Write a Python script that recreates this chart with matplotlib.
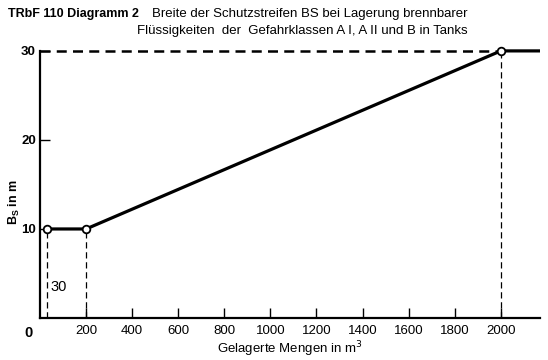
import matplotlib.pyplot as plt

plt.rcParams['font.family'] = ['Liberation Sans', 'DejaVu Sans']

# Werte aus dem Diagramm
menge = [30, 200, 2000]          # gelagerte Mengen in m3
breite = [10, 10, 30]            # Breite BS in m
menge_ende = 2170                # Linie läuft nach 2000 waagerecht weiter
xticks = [200, 400, 600, 800, 1000, 1200, 1400, 1600, 1800, 2000]
yticks = [10, 20, 30]

fig = plt.figure(figsize=(5.48, 3.6), dpi=100)
ax = fig.add_axes([40/548, 42/360, 500/548, 276/360])

# Kennlinie
ax.plot(menge + [menge_ende], breite + [breite[-1]], color='black', lw=2.3,
        solid_capstyle='butt', clip_on=False, zorder=3)
ax.plot(menge, breite, 'o', ms=5.5, mfc='white', mec='black', mew=1.3,
        clip_on=False, zorder=4)

# gestrichelte Hilfslinien
for x, y in zip(menge, breite):
    ax.plot([x, x], [0, y], color='black', lw=0.9, ls=(0, (5, 3)), zorder=2)
ax.plot([0, menge[-1]], [30, 30], color='black', lw=1.8, ls=(0, (4, 2.5)),
        clip_on=False, zorder=2)

ax.set_xlim(0, menge_ende)
ax.set_ylim(0, 31)
ax.spines['top'].set_visible(False)
ax.spines['right'].set_visible(False)
ax.spines['left'].set_bounds(0, 30)
ax.spines['left'].set_linewidth(1.6)
ax.spines['bottom'].set_linewidth(1.6)

ax.set_xticks(xticks)
ax.set_yticks(yticks)
ax.tick_params(direction='in', length=7, width=1.0, labelsize=9.5, pad=5)
ax.tick_params(axis='y', pad=3)
for lbl in ax.get_yticklabels():
    lbl.set_fontweight('bold')

ax.text(-0.015, -0.03, '0', transform=ax.transAxes, ha='right', va='top',
        fontsize=10.5, fontweight='bold')
ax.text(45, 3.5, '30', fontsize=10.5, ha='left', va='center')

ax.set_xlabel(r'Gelagerte Mengen in m$^3$', fontsize=9.5, labelpad=2)
ax.set_ylabel(r'B$_\mathregular{S}$ in m', fontsize=9, fontweight='bold')
ax.yaxis.set_label_coords(-0.037, 0.42)

fig.text(8/548, 1 - 14/360, 'TRbF 110 Diagramm 2', fontsize=9,
         fontweight='bold', va='center')
fig.text(152/548, 1 - 14/360,
         'Breite der Schutzstreifen BS bei Lagerung brennbarer',
         fontsize=9.5, va='center')
fig.text(137/548, 1 - 31/360,
         'Flüssigkeiten  der  Gefahrklassen A I, A II und B in Tanks',
         fontsize=9.5, va='center')

fig.savefig('out.png', dpi=100)
